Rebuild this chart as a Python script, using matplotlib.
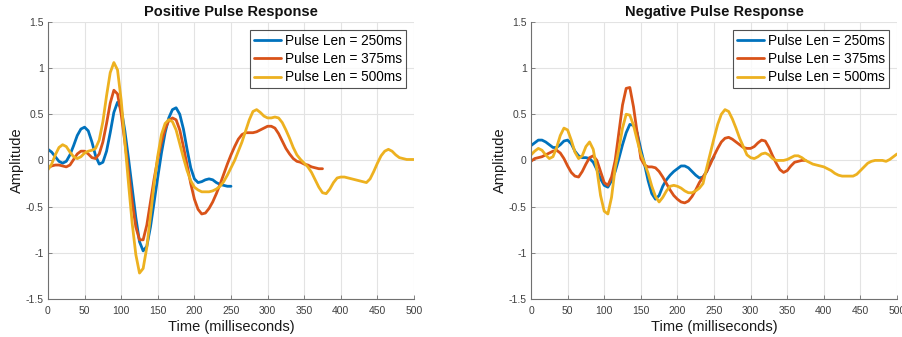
import matplotlib
matplotlib.use("Agg")
import matplotlib.pyplot as plt

plt.rcParams['font.family'] = ['Liberation Sans', 'DejaVu Sans']

# ---- data (time in ms, amplitude) ----
t_250 = list(range(0, 251, 5))
t_375 = list(range(0, 376, 5))
t_500 = list(range(0, 501, 5))

pos_250 = [0.12, 0.09, 0.04, -0.01, -0.03, -0.01, 0.06, 0.16, 0.27, 0.34,
           0.36, 0.32, 0.20, 0.05, -0.04, -0.02, 0.10, 0.30, 0.52, 0.63,
           0.56, 0.32, 0.02, -0.30, -0.62, -0.88, -0.98, -0.93, -0.72, -0.45,
           -0.18, 0.08, 0.30, 0.46, 0.55, 0.57, 0.50, 0.34, 0.12, -0.08,
           -0.20, -0.24, -0.23, -0.21, -0.20, -0.21, -0.24, -0.26, -0.27, -0.28,
           -0.28]
pos_375 = [-0.08, -0.06, -0.05, -0.05, -0.06, -0.07, -0.05, 0.01, 0.07, 0.10,
           0.10, 0.07, 0.03, 0.02, 0.07, 0.20, 0.40, 0.62, 0.76, 0.72,
           0.50, 0.20, -0.12, -0.45, -0.72, -0.86, -0.86, -0.70, -0.45, -0.20,
           0.02, 0.20, 0.34, 0.43, 0.46, 0.44, 0.33, 0.15, -0.05, -0.25,
           -0.42, -0.53, -0.58, -0.57, -0.52, -0.45, -0.36, -0.26, -0.15, -0.04,
           0.06, 0.15, 0.23, 0.28, 0.30, 0.30, 0.30, 0.31, 0.33, 0.35,
           0.37, 0.37, 0.35, 0.29, 0.21, 0.13, 0.07, 0.02, -0.01, -0.02,
           -0.04, -0.05, -0.07, -0.08, -0.09, -0.09]
pos_500 = [-0.10, -0.04, 0.06, 0.14, 0.17, 0.15, 0.09, 0.04, 0.02, 0.04,
           0.08, 0.10, 0.11, 0.13, 0.22, 0.42, 0.70, 0.95, 1.06, 0.98,
           0.65, 0.20, -0.25, -0.68, -1.02, -1.22, -1.17, -0.94, -0.60, -0.25,
           0.05, 0.28, 0.40, 0.44, 0.42, 0.33, 0.18, 0.03, -0.11, -0.22,
           -0.29, -0.32, -0.34, -0.34, -0.34, -0.33, -0.31, -0.28, -0.23, -0.16,
           -0.08, 0.00, 0.10, 0.20, 0.32, 0.44, 0.53, 0.55, 0.52, 0.48,
           0.46, 0.46, 0.47, 0.46, 0.41, 0.33, 0.24, 0.14, 0.06, 0.01,
           -0.03, -0.07, -0.13, -0.21, -0.29, -0.35, -0.36, -0.31, -0.24, -0.19,
           -0.18, -0.18, -0.19, -0.20, -0.21, -0.22, -0.23, -0.24, -0.20, -0.12,
           -0.03, 0.05, 0.10, 0.12, 0.10, 0.06, 0.03, 0.02, 0.01, 0.01,
           0.01]

neg_250 = [0.16, 0.19, 0.22, 0.22, 0.20, 0.17, 0.14, 0.14, 0.17, 0.21,
           0.22, 0.18, 0.10, 0.05, 0.03, 0.03, 0.02, -0.02, -0.10, -0.20,
           -0.27, -0.29, -0.22, -0.12, 0.02, 0.17, 0.30, 0.39, 0.38, 0.30,
           0.12, -0.04, -0.22, -0.36, -0.42, -0.38, -0.28, -0.21, -0.16, -0.12,
           -0.09, -0.06, -0.06, -0.08, -0.12, -0.16, -0.19, -0.18, -0.12, -0.02,
           0.04]
neg_375 = [-0.01, 0.02, 0.03, 0.04, 0.06, 0.08, 0.10, 0.11, 0.08, 0.02,
           -0.06, -0.13, -0.17, -0.18, -0.12, -0.04, 0.03, 0.05, 0.00, -0.12,
           -0.24, -0.27, -0.18, 0.00, 0.30, 0.60, 0.78, 0.79, 0.58, 0.30,
           0.02, -0.05, -0.07, -0.07, -0.08, -0.12, -0.18, -0.25, -0.32, -0.38,
           -0.42, -0.45, -0.46, -0.44, -0.39, -0.32, -0.24, -0.18, -0.12, -0.04,
           0.05, 0.13, 0.20, 0.24, 0.25, 0.23, 0.20, 0.17, 0.14, 0.13,
           0.13, 0.15, 0.19, 0.22, 0.21, 0.14, 0.05, -0.03, -0.10, -0.13,
           -0.11, -0.06, -0.02, -0.01, 0.00, 0.00]
neg_500 = [0.06, 0.10, 0.13, 0.11, 0.06, 0.02, 0.04, 0.14, 0.27, 0.35,
           0.33, 0.22, 0.09, 0.02, 0.05, 0.15, 0.20, 0.12, -0.10, -0.38,
           -0.55, -0.58, -0.40, -0.08, 0.12, 0.35, 0.50, 0.49, 0.38, 0.22,
           0.07, -0.03, -0.14, -0.28, -0.39, -0.45, -0.40, -0.33, -0.28, -0.27,
           -0.28, -0.30, -0.33, -0.35, -0.35, -0.33, -0.30, -0.25, -0.08, 0.08,
           0.24, 0.39, 0.50, 0.55, 0.53, 0.45, 0.35, 0.24, 0.15, 0.06,
           0.03, 0.02, 0.04, 0.07, 0.08, 0.06, 0.02, 0.00, 0.00, 0.00,
           0.01, 0.03, 0.05, 0.05, 0.03, 0.00, -0.02, -0.04, -0.05, -0.06,
           -0.07, -0.09, -0.11, -0.14, -0.16, -0.17, -0.17, -0.17, -0.17, -0.15,
           -0.11, -0.07, -0.03, -0.01, 0.00, 0.00, 0.00, -0.01, 0.01, 0.04,
           0.07]

labels = ["Pulse Len = 250ms", "Pulse Len = 375ms", "Pulse Len = 500ms"]
colors = ["#0072BD", "#D95319", "#EDB120"]
x_ticks = list(range(0, 501, 50))
y_ticks = [-1.5, -1, -0.5, 0, 0.5, 1, 1.5]
y_ticklabels = ["-1.5", "-1", "-0.5", "0", "0.5", "1", "1.5"]

panels = [
    ("Positive Pulse Response", [(t_250, pos_250), (t_375, pos_375), (t_500, pos_500)]),
    ("Negative Pulse Response", [(t_250, neg_250), (t_375, neg_375), (t_500, neg_500)]),
]

fig = plt.figure(figsize=(9.02, 3.37), dpi=100)
ax_rects = [[0.0532, 0.113, 0.4058, 0.822], [0.5887, 0.113, 0.4058, 0.822]]

for rect, (title, series) in zip(ax_rects, panels):
    ax = fig.add_axes(rect)
    for (t, y), c, lab in zip(series, colors, labels):
        ax.plot(t, y, color=c, lw=2.0, label=lab, solid_capstyle="round",
                solid_joinstyle="round")
    ax.set_xlim(0, 500)
    ax.set_ylim(-1.5, 1.5)
    ax.set_xticks(x_ticks)
    ax.set_yticks(y_ticks)
    ax.set_yticklabels(y_ticklabels)
    ax.grid(True, color="#e3e3e3", lw=0.8)
    ax.set_axisbelow(True)
    for side in ("top", "right"):
        ax.spines[side].set_visible(False)
    for side in ("left", "bottom"):
        ax.spines[side].set_color("#707070")
        ax.spines[side].set_linewidth(0.8)
    ax.tick_params(direction="in", length=3, width=0.6, color="#707070",
                   labelsize=7.5, labelcolor="#404040")
    ax.tick_params(axis="x", pad=5)
    ax.tick_params(axis="y", pad=3)
    ax.set_xlabel("Time (milliseconds)", fontsize=10.5, color="#1a1a1a", labelpad=3)
    ax.set_ylabel("Amplitude", fontsize=10.5, color="#1a1a1a", labelpad=1)
    ax.set_title(title, fontsize=10.5, fontweight="bold", color="#111111", pad=4)
    leg = ax.legend(loc="upper right", fontsize=9.8, frameon=True, fancybox=False,
                    edgecolor="#262626", handlelength=2.0, handletextpad=0.25,
                    borderpad=0.3, labelspacing=0.3, borderaxespad=0.6)
    leg.get_frame().set_linewidth(0.8)

fig.savefig("out.png", dpi=100)
